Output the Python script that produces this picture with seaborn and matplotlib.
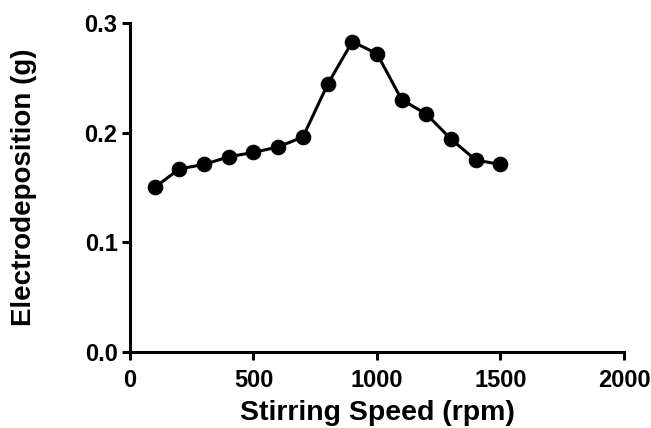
import matplotlib
matplotlib.use("Agg")
import matplotlib.pyplot as plt
import seaborn as sns
import pandas as pd

# Stirring speed (rpm) and measured electrodeposited mass (g)
speed = [100, 200, 300, 400, 500, 600, 700, 800, 900, 1000, 1100, 1200, 1300, 1400, 1500]
mass = [0.150, 0.167, 0.171, 0.178, 0.182, 0.187, 0.196, 0.244, 0.283, 0.272,
        0.230, 0.217, 0.194, 0.175, 0.171]
x_ticks = [0, 500, 1000, 1500, 2000]
y_ticks = [0.0, 0.1, 0.2, 0.3]

sns.set_theme(style="ticks")
plt.rcParams["font.family"] = ["Liberation Sans", "DejaVu Sans"]
plt.rcParams["text.color"] = "black"
plt.rcParams["axes.labelcolor"] = "black"
plt.rcParams["xtick.color"] = "black"
plt.rcParams["ytick.color"] = "black"

df = pd.DataFrame({"speed": speed, "mass": mass})

fig = plt.figure(figsize=(6.51, 4.28), dpi=100)
ax = fig.add_axes([0.1997, 0.1776, 0.7588, 0.7687])

sns.lineplot(data=df, x="speed", y="mass", ax=ax, color="black", linewidth=2.2,
             marker="o", markersize=10.5, markeredgecolor="black", markerfacecolor="black")

ax.set_xlim(0, 2000)
ax.set_ylim(0, 0.3)
ax.set_xticks(x_ticks)
ax.set_xticklabels([str(t) for t in x_ticks])
ax.set_yticks(y_ticks)
ax.set_yticklabels([f"{t:.1f}" for t in y_ticks])

ax.set_xlabel("Stirring Speed (rpm)", fontsize=20.5, fontweight="bold", labelpad=6)
ax.set_ylabel("Electrodeposition (g)", fontsize=20, fontweight="bold", labelpad=34)

for lab in ax.get_xticklabels() + ax.get_yticklabels():
    lab.set_fontweight("bold")
    lab.set_fontsize(17)
    lab.set_color("black")

ax.tick_params(axis="x", direction="out", length=6, width=2.2, colors="black", pad=6)
ax.tick_params(axis="y", direction="out", length=6, width=2.2, colors="black", pad=3)
for side in ["left", "bottom"]:
    ax.spines[side].set_linewidth(2.2)
    ax.spines[side].set_color("black")
sns.despine(ax=ax)

fig.savefig("out.png", dpi=100)
